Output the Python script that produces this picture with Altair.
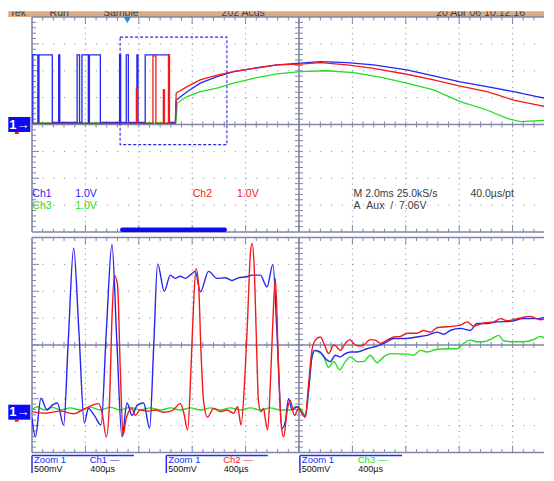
import altair as alt
import pandas as pd

# Main window: 2.0 ms/div, 1.0 V/div, ground at the centre line.
# Times in ms from the left edge of the graticule.
top_blue_edges_ms = [0.03, 0.22, 0.26, 0.76, 1.00, 1.04, 1.69, 1.78, 1.87, 2.11,
                     2.15, 2.56, 3.28, 3.32, 3.53, 3.61, 3.93, 3.97, 4.24, 5.12]
top_blue_low_v = 0.08
top_blue_high_v = 2.59
top_red_pulse_start_ms = [3.91, 4.53, 4.92, 5.11]
top_red_pulse_end_ms = [3.95, 4.64, 4.96, 5.15]
top_red_pulse_v = [1.36, 2.55, 1.30, 2.60]
top_red_low_v = 0.04
top_green_low_v = 0.06

top_blue_t_ms = [5.37, 5.40, 5.81, 6.30, 6.93, 7.55, 8.30, 9.18, 10.05, 10.80,
                 11.80, 12.79, 14.04, 15.04, 16.04, 17.04, 18.04, 18.91, 19.54]
top_blue_v = [0.08, 0.91, 1.22, 1.54, 1.78, 1.97, 2.09, 2.22, 2.28, 2.34,
              2.30, 2.22, 2.03, 1.81, 1.59, 1.41, 1.22, 1.04, 0.91]
top_red_t_ms = [5.37, 5.40, 5.81, 6.30, 6.93, 7.55, 8.30, 9.18, 10.05, 10.80,
                11.80, 12.79, 14.04, 15.04, 16.04, 17.04, 18.04, 18.91, 19.54]
top_red_v = [0.04, 1.17, 1.41, 1.66, 1.84, 1.97, 2.09, 2.22, 2.25, 2.30,
             2.22, 2.09, 1.87, 1.66, 1.43, 1.22, 0.91, 0.73, 0.61]
top_green_t_ms = [5.39, 5.44, 5.81, 6.30, 6.93, 7.55, 8.30, 9.18, 10.05, 11.05,
                  12.04, 13.04, 14.04, 15.04, 16.04, 17.04, 17.79, 18.29, 19.54]
top_green_v = [0.06, 0.80, 1.04, 1.22, 1.35, 1.54, 1.72, 1.88, 1.97, 2.00,
               1.93, 1.76, 1.54, 1.29, 0.85, 0.54, 0.23, 0.11, 0.17]

trigger_pos_ms = 3.57
zoom_start_ms = 3.3

# Zoom window: 400 µs/div, 500 mV/div. Times in µs from the zoom-window start.
zoom_blue_t_us = [0, 25, 67, 112, 152, 190, 237, 272, 312, 351, 392, 422, 467, 517, 557,
                  599, 635, 674, 712, 749, 789, 836, 881, 912, 941, 991, 1036, 1073, 1111,
                  1148, 1199, 1223, 1261, 1323, 1386, 1448, 1498, 1545, 1611, 1648, 1710,
                  1760, 1805, 1835, 1873, 1897, 1922, 1948, 1985, 2023, 2047, 2072, 2097,
                  2122, 2160, 2197, 2235, 2272, 2310, 2347, 2384, 2435, 2509, 2584, 2659,
                  2709, 2759, 2796, 2884, 2959, 3034, 3083, 3133, 3208, 3283, 3333, 3408,
                  3483, 3583, 3683, 3784, 3859]
zoom_blue_v = [-0.11, -0.46, 0.26, 0.04, 0.13, 0.17, -0.24, 1.34, 3.05, 1.52, -0.20, 0.07,
               -0.06, -0.24, 1.52, 3.12, 1.34, -0.46, 0.17, -0.06, 0.13, 0.17, -0.30, 1.25,
               2.76, 2.25, 2.55, 2.49, 2.53, 2.49, 2.58, 2.62, 2.24, 2.62, 2.49, 2.50, 2.45,
               2.50, 2.52, 2.55, 2.55, 2.33, 2.75, 1.47, -0.30, -0.18, 0.25, 0.04, 0.10,
               -0.02, -0.09, 0.41, 1.03, 1.15, 1.12, 1.00, 0.94, 1.06, 1.03, 1.09, 1.12,
               1.12, 1.18, 1.23, 1.31, 1.37, 1.37, 1.37, 1.40, 1.43, 1.49, 1.45, 1.52,
               1.56, 1.52, 1.65, 1.65, 1.68, 1.69, 1.74, 1.74, 1.78]
zoom_red_t_us = [0, 100, 212, 309, 399, 452, 499, 524, 557, 581, 599, 617, 641, 661, 682,
                 706, 749, 774, 811, 861, 924, 984, 1051, 1111, 1136, 1166, 1191, 1211,
                 1229, 1248, 1266, 1286, 1315, 1360, 1411, 1461, 1510, 1540, 1566, 1591,
                 1615, 1635, 1648, 1665, 1680, 1697, 1715, 1735, 1747, 1765, 1785, 1805,
                 1823, 1847, 1865, 1885, 1910, 1935, 1965, 1997, 2035, 2047, 2072, 2097,
                 2122, 2160, 2197, 2222, 2260, 2285, 2309, 2347, 2379, 2409, 2447, 2484,
                 2534, 2572, 2609, 2659, 2709, 2759, 2809, 2884, 2934, 2984, 3034, 3109,
                 3208, 3259, 3308, 3383, 3458, 3508, 3558, 3633, 3733, 3808, 3883]
zoom_red_v = [0.01, -0.02, 0.02, -0.03, 0.07, 0.13, 0.16, 0.0, -0.46, 0.22, 1.75, 2.55,
              2.36, 0.82, -0.43, -0.11, 0.07, -0.06, 0.04, 0.02, 0.04, 0.0, 0.03, 0.16,
              0.0, -0.33, 0.82, 2.05, 2.67, 2.36, 1.12, 0.19, -0.09, 0.07, 0.01, 0.04,
              -0.02, 0.10, -0.24, 0.50, 1.74, 2.92, 3.14, 2.67, 1.43, 0.19, 0.01, 0.07,
              -0.12, -0.33, 0.50, 1.74, 2.49, 0.82, -0.18, -0.46, 0.01, 0.22, -0.06, 0.07,
              -0.06, -0.09, 0.53, 1.15, 1.34, 1.40, 1.21, 1.09, 1.25, 1.21, 1.15, 1.28,
              1.35, 1.28, 1.23, 1.25, 1.35, 1.34, 1.28, 1.34, 1.40, 1.41, 1.47, 1.47,
              1.52, 1.49, 1.57, 1.59, 1.62, 1.68, 1.60, 1.66, 1.68, 1.74, 1.70, 1.74,
              1.78, 1.72, 1.76]
zoom_green_t_us = [0, 40, 92, 152, 212, 287, 362, 437, 512, 587, 661, 736, 811, 886, 961,
                   1036, 1111, 1186, 1261, 1336, 1411, 1486, 1560, 1635, 1710, 1785, 1860,
                   1935, 1972, 2010, 2047, 2072, 2097, 2115, 2145, 2185, 2222, 2260, 2304,
                   2347, 2384, 2435, 2484, 2534, 2584, 2634, 2684, 2809, 2859, 2909, 2959,
                   3034, 3109, 3184, 3233, 3283, 3333, 3383, 3446, 3496, 3533, 3607, 3683,
                   3757, 3808, 3858]
zoom_green_v = [0.05, 0.10, 0.04, 0.09, 0.04, 0.08, 0.04, 0.09, 0.04, 0.09, 0.04, 0.09,
                0.04, 0.08, 0.04, 0.08, 0.04, 0.08, 0.04, 0.08, 0.04, 0.08, 0.04, 0.08,
                0.04, 0.08, 0.04, 0.04, 0.10, 0.07, -0.06, 0.41, 1.03, 1.15, 1.12, 1.03,
                0.83, 0.94, 0.79, 0.94, 1.03, 0.94, 0.94, 1.06, 0.92, 1.03, 1.09, 1.08,
                1.06, 1.15, 1.12, 1.17, 1.18, 1.18, 1.28, 1.34, 1.31, 1.31, 1.37, 1.43,
                1.33, 1.31, 1.31, 1.35, 1.41, 1.34]

# screen texts
status_texts = ["Tek", "Run", "Sample", "202 Acqs", "20 Apr 06 10:12:16"]
channel_names = ["Ch1", "Ch2", "Ch3"]
channel_scales = ["1.0V", "1.0V", "1.0V"]
timebase_text = "M 2.0ms 25.0kS/s"
record_text = "40.0µs/pt"
trigger_text = "A\u00a0\u00a0Aux\u00a0\u00a0/\u00a0\u00a07.06V"
zoom_titles = ["Zoom 1", "Zoom 1", "Zoom 1"]
zoom_channels = ["Ch1 —", "Ch2 —", "Ch3 —"]
zoom_vscales = ["500mV", "500mV", "500mV"]
zoom_hscales = ["400µs", "400µs", "400µs"]

# ===================== screen geometry / style =====================
PX_DIV_X = 53.4
PX_DIV_Y = 26.875
PANEL_W = 512
NXV = PANEL_W / PX_DIV_X          # visible part of the 10 divisions
NX, NY = 10, 8
TOP = dict(x0=0.0, xs=2.0, y0=-4.0, ys=1.0)      # ms, V
ZOOM = dict(x0=0.0, xs=400.0, y0=-0.75, ys=0.5)  # µs, V
FONT = "Liberation Sans"
BLUE, RED, GREEN = "#2626f2", "#f21a1a", "#22dd22"
GRAT = "#7f86a8"
CH_COLORS = [BLUE, RED, GREEN]


def X(p, d):
    return p["x0"] + d * p["xs"]


def Y(p, d):
    return p["y0"] + d * p["ys"]


def pxx(p, px):
    return px / PX_DIV_X * p["xs"]


def pxy(p, px):
    return px / PX_DIV_Y * p["ys"]


def sc(p):
    return (alt.Scale(domain=[X(p, 0), X(p, NXV)], nice=False, zero=False),
            alt.Scale(domain=[Y(p, 0), Y(p, NY)], nice=False, zero=False))


def rules(rows, p, **mk):
    xsc, ysc = sc(p)
    return alt.Chart(pd.DataFrame(rows)).mark_rule(**mk).encode(
        x=alt.X("x:Q", scale=xsc, axis=None), x2="x2:Q",
        y=alt.Y("y:Q", scale=ysc, axis=None), y2="y2:Q")


def rects(rows, p, **mk):
    xsc, ysc = sc(p)
    return alt.Chart(pd.DataFrame(rows)).mark_rect(**mk).encode(
        x=alt.X("x:Q", scale=xsc, axis=None), x2="x2:Q",
        y=alt.Y("y:Q", scale=ysc, axis=None), y2="y2:Q",
        color=alt.Color("c:N", scale=None))


def texts(rows, p, **mk):
    xsc, ysc = sc(p)
    opts = dict(align="left", baseline="middle", font=FONT, fontSize=10.5)
    opts.update(mk)
    return alt.Chart(pd.DataFrame(rows)).mark_text(**opts).encode(
        x=alt.X("x:Q", scale=xsc, axis=None),
        y=alt.Y("y:Q", scale=ysc, axis=None),
        text="text:N", color=alt.Color("c:N", scale=None))


def trace(t, v, p, color, interp="linear", width=1.3):
    xsc, ysc = sc(p)
    df = pd.DataFrame({"t": t, "v": v, "i": range(len(t))})
    return alt.Chart(df).mark_line(color=color, strokeWidth=width,
                                   interpolate=interp, clip=True).encode(
        x=alt.X("t:Q", scale=xsc, axis=None),
        y=alt.Y("v:Q", scale=ysc, axis=None),
        order="i:Q")


def graticule(p):
    cx, cy = NX // 2, NY // 2
    hd = [dict(x=X(p, 0), x2=X(p, NXV), y=Y(p, j), y2=Y(p, j)) for j in range(1, NY) if j != cy]
    vd = [dict(x=X(p, i), x2=X(p, i), y=Y(p, NY), y2=Y(p, 0)) for i in range(1, NX) if i != cx]
    frame = [
        dict(x=X(p, 0), x2=X(p, NXV), y=Y(p, cy), y2=Y(p, cy)),
        dict(x=X(p, cx), x2=X(p, cx), y=Y(p, 0), y2=Y(p, NY)),
        dict(x=X(p, 0), x2=X(p, 0), y=Y(p, 0), y2=Y(p, NY)),
        dict(x=X(p, 0), x2=X(p, NXV), y=Y(p, 0), y2=Y(p, 0)),
        dict(x=X(p, 0), x2=X(p, NXV), y=Y(p, NY), y2=Y(p, NY)),
    ]
    ticks = []
    k = 1
    while k / 5 < NXV:
        d = k / 5
        L = 7 if k % 5 == 0 else 3.5
        ticks.append(dict(x=X(p, d), x2=X(p, d), y=Y(p, cy) - pxy(p, 3), y2=Y(p, cy) + pxy(p, 3)))
        ticks.append(dict(x=X(p, d), x2=X(p, d), y=Y(p, NY), y2=Y(p, NY) - pxy(p, L)))
        ticks.append(dict(x=X(p, d), x2=X(p, d), y=Y(p, 0), y2=Y(p, 0) + pxy(p, L)))
        k += 1
    for k in range(1, NY * 5):
        d = k / 5
        L = 7 if k % 5 == 0 else 4
        ticks.append(dict(x=X(p, cx) - pxx(p, 4), x2=X(p, cx) + pxx(p, 4), y=Y(p, d), y2=Y(p, d)))
        ticks.append(dict(x=X(p, 0), x2=X(p, 0) + pxx(p, L), y=Y(p, d), y2=Y(p, d)))
    per_x = PX_DIV_X / 5
    per_y = PX_DIV_Y / 5
    return [
        rules(hd, p, color=GRAT, strokeWidth=1, strokeDash=[1, per_x - 1]),
        rules(vd, p, color=GRAT, strokeWidth=1, strokeDash=[1, per_y - 1]),
        rules(ticks, p, color=GRAT, strokeWidth=1),
        rules(frame, p, color=GRAT, strokeWidth=1.6),
    ]


def marker(p, ground):
    left = X(p, 0) - pxx(p, 23.7)
    right = X(p, 0) - pxx(p, 1.7)
    box = [dict(x=left, x2=right, y=ground - pxy(p, 7.5), y2=ground + pxy(p, 7.5), c="#0a0af5")]
    red2 = [dict(x=left + pxx(p, 6.5), x2=left + pxx(p, 10.5),
                 y=ground - pxy(p, 7.5), y2=ground - pxy(p, 9.5), c=RED)]
    one = [dict(x=(left + right) / 2, y=ground, text="1→", c="white")]
    return [rects(red2, p), rects(box, p),
            texts(one, p, align="center", fontSize=13, fontWeight="bold")]


# ===================== main (top) window =====================
P = TOP
blue_t, blue_v = [0.0], [top_blue_low_v]
level = top_blue_low_v
for e in top_blue_edges_ms:
    blue_t.append(e); blue_v.append(level)
    level = top_blue_high_v if level == top_blue_low_v else top_blue_low_v
    blue_t.append(e); blue_v.append(level)
blue_t += top_blue_t_ms
blue_v += top_blue_v

red_t, red_v = [0.0], [top_red_low_v]
for s, e, lv in zip(top_red_pulse_start_ms, top_red_pulse_end_ms, top_red_pulse_v):
    red_t += [s, s, e, e]
    red_v += [top_red_low_v, lv, lv, top_red_low_v]
red_t += top_red_t_ms
red_v += top_red_v

green_t = [0.0] + top_green_t_ms
green_v = [top_green_low_v] + top_green_v

status_x_div = [-0.42, 0.33, 1.33, 3.55, 7.57]
strip = [dict(x=X(P, 0) - pxx(P, 23.7), x2=X(P, NXV), y=Y(P, NY), y2=Y(P, NY) + pxy(P, 6),
              c="#dcab84")]
strip_txt = [dict(x=X(P, d), y=Y(P, NY) + pxy(P, 0.6), text=t, c="#404040")
             for d, t in zip(status_x_div, status_texts)]
cover = [dict(x=X(P, 0) - pxx(P, 23.7), x2=X(P, NXV), y=Y(P, NY) + pxy(P, 5.8),
              y2=Y(P, NY) + pxy(P, 9), c="white")]

zoom_end_ms = zoom_start_ms + NX * ZOOM["xs"] / 1000.0
zbox = pd.DataFrame([dict(x=zoom_start_ms, x2=zoom_end_ms, y=Y(ZOOM, 0), y2=Y(ZOOM, NY))])
xsc, ysc = sc(P)
zoom_box = alt.Chart(zbox).mark_rect(fillOpacity=0, stroke=BLUE, strokeWidth=1.1,
                                     strokeDash=[3, 2]).encode(
    x=alt.X("x:Q", scale=xsc, axis=None), x2="x2:Q",
    y=alt.Y("y:Q", scale=ysc, axis=None), y2="y2:Q")
zoom_bar = rects([dict(x=zoom_start_ms, x2=zoom_end_ms, y=Y(P, 0),
                       y2=Y(P, 0) + pxy(P, 4.5), c="#0c0cf0")], P, cornerRadius=2)
trig = alt.Chart(pd.DataFrame({"t": [trigger_pos_ms], "v": [Y(P, NY) - pxy(P, 3)]})).mark_point(
    shape="triangle-down", filled=True, size=55, color="#1d92e0", opacity=1).encode(
    x=alt.X("t:Q", scale=xsc, axis=None), y=alt.Y("v:Q", scale=ysc, axis=None))

row1, row2 = 1.43, 0.95
info = [
    dict(x=X(P, 0.006), y=Y(P, row1), text=channel_names[0], c=CH_COLORS[0]),
    dict(x=X(P, 0.81), y=Y(P, row1), text=channel_scales[0], c=CH_COLORS[0]),
    dict(x=X(P, 3.01), y=Y(P, row1), text=channel_names[1], c=CH_COLORS[1]),
    dict(x=X(P, 3.84), y=Y(P, row1), text=channel_scales[1], c=CH_COLORS[1]),
    dict(x=X(P, 0.006), y=Y(P, row2), text=channel_names[2], c=CH_COLORS[2]),
    dict(x=X(P, 0.81), y=Y(P, row2), text=channel_scales[2], c=CH_COLORS[2]),
    dict(x=X(P, 6.02), y=Y(P, row1), text=timebase_text, c="#3a3a3a"),
    dict(x=X(P, 8.21), y=Y(P, row1), text=record_text, c="#3a3a3a"),
    dict(x=X(P, 6.02), y=Y(P, row2), text=trigger_text, c="#3a3a3a"),
]

top_layers = ([rects(strip, P), texts(strip_txt, P, fontSize=10.5, baseline="alphabetic"),
               rects(cover, P)]
              + graticule(P)
              + [zoom_box, zoom_bar,
                 trace(green_t, green_v, P, GREEN),
                 trace(blue_t, blue_v, P, BLUE),
                 trace(red_t, red_v, P, RED),
                 trig, texts(info, P)]
              + marker(P, 0.0))
top = alt.layer(*top_layers).properties(width=PANEL_W, height=NY * PX_DIV_Y)

# ===================== zoom (bottom) window =====================
Z = ZOOM
box_left = [0.0, 2.515, 5.017]
box_right = [1.908, 4.416, 6.93]
ch_x = [1.08, 3.58, 6.10]
line_y = Y(Z, 0) - pxy(Z, 3.0)
box_lines = []
for l, r in zip(box_left, box_right):
    box_lines.append(dict(x=X(Z, l), x2=X(Z, r), y=line_y, y2=line_y))
    box_lines.append(dict(x=X(Z, l), x2=X(Z, l), y=line_y, y2=Y(Z, 0) - pxy(Z, 20.5)))
lab_rows = []
for i in range(3):
    lab_rows.append(dict(x=X(Z, box_left[i] + 0.036), y=Y(Z, 0) - pxy(Z, 7.6),
                         text=zoom_titles[i], c="#2030e8", s=9.5))
    lab_rows.append(dict(x=X(Z, ch_x[i]), y=Y(Z, 0) - pxy(Z, 7.6),
                         text=zoom_channels[i], c=CH_COLORS[i], s=9.5))
    lab_rows.append(dict(x=X(Z, box_left[i] + 0.036), y=Y(Z, 0) - pxy(Z, 16.3),
                         text=zoom_vscales[i], c="#111111", s=9.0))
    lab_rows.append(dict(x=X(Z, ch_x[i] + 0.01), y=Y(Z, 0) - pxy(Z, 16.3),
                         text=zoom_hscales[i], c="#111111", s=9.0))
xz, yz = sc(Z)
zoom_labels = alt.Chart(pd.DataFrame(lab_rows)).mark_text(
    align="left", baseline="middle", font=FONT).encode(
    x=alt.X("x:Q", scale=xz, axis=None), y=alt.Y("y:Q", scale=yz, axis=None),
    text="text:N", color=alt.Color("c:N", scale=None),
    size=alt.Size("s:Q", scale=None, legend=None))

bottom_layers = (graticule(Z)
                 + [trace(zoom_green_t_us, zoom_green_v, Z, GREEN, "monotone", 1.4),
                    trace(zoom_blue_t_us, zoom_blue_v, Z, BLUE, "monotone", 1.4),
                    trace(zoom_red_t_us, zoom_red_v, Z, RED, "monotone", 1.4)]
                 + marker(Z, 0.0)
                 + [rules(box_lines, Z, color="#2030e8", strokeWidth=1.5),
                    zoom_labels])
bottom = alt.layer(*bottom_layers).properties(width=PANEL_W, height=NY * PX_DIV_Y)

chart = (alt.vconcat(top, bottom, spacing=3.5)
         .properties(padding=0, background="white")
         .configure_view(strokeWidth=0))

chart.save("out.html", embed_options={"renderer": "svg", "actions": False})
